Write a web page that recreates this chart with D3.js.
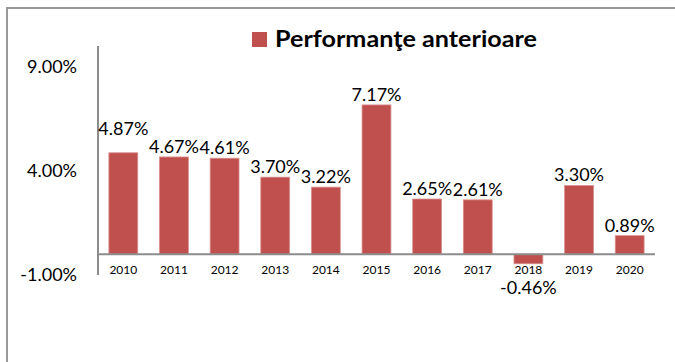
<!DOCTYPE html>
<html>
<head>
<meta charset="utf-8">
<script src="https://cdn.jsdelivr.net/npm/d3@7"></script>
<style>
  html, body { margin: 0; padding: 0; background: #fff; }
  svg { display: block; }
  text { font-family: Lato, "Open Sans", sans-serif; fill: #000; }
</style>
</head>
<body>
<svg id="chart" width="675" height="362"></svg>
<script>
// Annual returns, percent
const years = ["2010", "2011", "2012", "2013", "2014", "2015", "2016", "2017", "2018", "2019", "2020"];
const returns = [4.87, 4.67, 4.61, 3.70, 3.22, 7.17, 2.65, 2.61, -0.46, 3.30, 0.89];
const yTicks = [-1, 4, 9];
const seriesName = "Performanţe anterioare";

const barColor = "#C0504D";
const axisColor = "#8C8C8C";

const svg = d3.select("#chart");

// chart area frame (runs off the right and bottom edges)
svg.append("rect")
  .attr("x", 7).attr("y", 8)
  .attr("width", 720).attr("height", 400)
  .attr("fill", "none")
  .attr("stroke", "#999")
  .attr("stroke-width", 2);

const plot = { left: 98, right: 655, top: 46, bottom: 275 };

const x = d3.scaleBand()
  .domain(years)
  .range([plot.left, plot.right])
  .paddingInner(0.43)
  .paddingOuter(0.215);

const y = d3.scaleLinear()
  .domain([-1, 10])
  .range([plot.bottom, plot.top]);

// plain hyphen for negatives
const fmt = d => d.toFixed(2) + "%";

// value axis labels
svg.append("g")
  .selectAll("text")
  .data(yTicks)
  .join("text")
  .attr("x", 77)
  .attr("y", d => y(d))
  .attr("dy", "0.36em")
  .attr("text-anchor", "end")
  .style("font-size", "18px")
  .text(fmt);

// bars
svg.append("g")
  .selectAll("rect")
  .data(returns)
  .join("rect")
  .attr("x", (d, i) => x(years[i]))
  .attr("width", x.bandwidth())
  .attr("y", d => y(Math.max(0, d)))
  .attr("height", d => Math.abs(y(d) - y(0)))
  .attr("fill", barColor)
  .attr("stroke", "#D9908E")
  .attr("stroke-width", 0.8);

// value axis line
svg.append("line")
  .attr("x1", plot.left).attr("x2", plot.left)
  .attr("y1", plot.top).attr("y2", plot.bottom)
  .attr("stroke", axisColor).attr("stroke-width", 2);

// category axis at zero
const xAxis = svg.append("g")
  .attr("transform", `translate(0,${y(0)})`)
  .call(d3.axisBottom(x).tickSize(0).tickPadding(11));
xAxis.select(".domain")
  .attr("d", `M${plot.left},0H${plot.right}`)
  .attr("stroke", axisColor).attr("stroke-width", 2);
xAxis.selectAll("text")
  .style("font-family", "Lato, 'Open Sans', sans-serif")
  .style("font-size", "12px")
  .attr("fill", "#000");

// data labels
const firstLabelLift = 14;
svg.append("g")
  .selectAll("text")
  .data(returns)
  .join("text")
  .attr("x", (d, i) => x(years[i]) + x.bandwidth() / 2)
  .attr("y", (d, i) => d >= 0
    ? y(d) - 4 - (i === 0 ? firstLabelLift : 0)
    : y(d) + 30)
  .attr("text-anchor", "middle")
  .style("font-size", "18px")
  .text(fmt);

// legend
const legend = svg.append("g");
legend.append("rect")
  .attr("x", 252).attr("y", 32)
  .attr("width", 15).attr("height", 15)
  .attr("fill", barColor);
legend.append("text")
  .attr("x", 275).attr("y", 47)
  .attr("textLength", 262)
  .attr("lengthAdjust", "spacingAndGlyphs")
  .style("font-size", "23px")
  .style("font-weight", "bold")
  .text(seriesName);
</script>
</body>
</html>
